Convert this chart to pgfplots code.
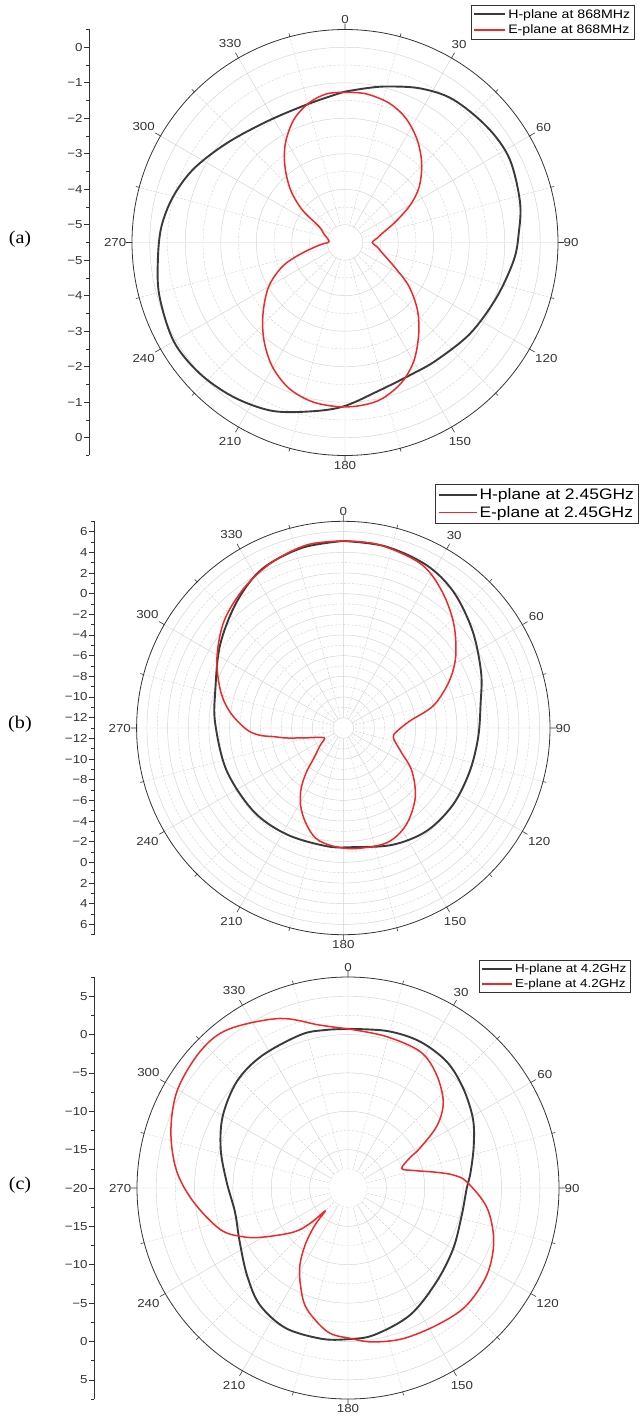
\documentclass[border=0pt]{standalone}
\usepackage{fontspec}
\setmainfont{Liberation Sans}[FakeStretch=1.15]
\newfontfamily\ser{Liberation Serif}[FakeStretch=1.12]
\usepackage{pgfplots}
\usepackage{pgfplotstable}
\pgfplotsset{compat=1.18}
\usepgfplotslibrary{polar}
\definecolor{hcol}{HTML}{3A3A3A}
\definecolor{ecol}{HTML}{F02828}
\definecolor{gridc}{HTML}{D2D2D2}
\definecolor{axc}{HTML}{333333}

\pgfplotstableread{
a r
0 -1.25
8 -1.11
15 -0.95
26 -0.67
37 -0.45
51 -0.34
63 -0.30
77 -0.44
87 -0.60
96 -0.72
110 -0.96
126 -1.14
142 -1.30
152 -1.34
167 -1.22
181 -0.87
193 -0.61
204 -0.32
216 -0.13
228 0.01
240 0.07
254 -0.06
265 -0.21
275 -0.31
285 -0.49
296 -0.76
310 -1.15
327 -1.44
344 -1.47
356 -1.33
360 -1.25
}\Ha
\pgfplotstableread{
a r
0 -1.27
8 -1.27
17.5 -1.38
26 -1.60
35 -1.96
44 -2.39
53 -2.88
60 -3.37
67.5 -3.95
76 -4.41
82 -4.58
90 -4.73
98 -4.58
106 -4.40
117 -3.90
124.5 -3.31
133 -2.71
141 -2.20
149.5 -1.66
157.6 -1.26
166.5 -0.98
174 -0.89
182 -0.87
191.6 -0.92
201 -1.10
210.4 -1.45
219.8 -1.93
229.2 -2.45
240 -3.02
249 -3.61
255 -4.16
262 -4.67
266 -4.86
273.6 -5.05
292 -4.86
301.6 -4.64
307.4 -3.98
314 -3.37
321.7 -2.77
329 -2.24
337.4 -1.75
345.5 -1.44
353 -1.28
360 -1.27
}\Ea
\pgfplotstableread{
a r
0 5.10
13 5.04
27 4.70
39 3.95
53 2.65
68 1.38
80 0.49
94 0.08
109 -0.07
125 -0.05
141 -0.18
157 -0.73
175 -1.43
188 -1.45
208 -1.34
227 -1.15
250 -0.98
272 -0.60
286 -0.11
304 1.38
320 3.00
333 4.28
347 4.88
360 5.10
}\Hb
\pgfplotstableread{
a r
0 5.10
11 5.07
25 4.58
35 3.43
46 1.80
57 -0.02
66 -1.76
76 -4.00
84 -6.53
94 -7.84
101 -8.07
113 -6.87
122 -5.18
134 -3.32
147 -1.83
159 -1.13
174 -1.27
185 -1.53
194 -2.00
202 -3.19
209 -4.47
215 -5.89
220 -7.47
224 -8.85
233 -10.19
243 -10.91
255 -9.33
260 -7.44
263 -6.18
265 -4.92
269 -3.66
278 -1.93
287 -0.57
299 0.98
312 2.51
325 3.63
337 4.47
349 5.07
360 5.10
}\Eb
\pgfplotstableread{
a r
0 0.74
14 1.09
26 1.27
38 0.90
49 -0.13
61 -1.38
72 -2.78
84 -4.00
90 -4.52
103 -4.76
120 -4.17
137 -3.17
154 -1.57
170 -0.54
180 -0.30
190 -0.05
204 -0.02
217 -0.91
229 -2.58
244 -4.27
258 -4.94
273 -4.15
287 -2.65
300 -1.16
314 0.08
327 0.57
343 0.91
352 0.80
360 0.74
}\Hc
\pgfplotstableread{
a r
0 0.74
14 0.37
28 0.11
38 -1.26
48 -3.29
55 -5.83
61 -9.28
64 -11.04
70 -12.54
75 -11.17
80 -8.24
83 -6.16
87 -4.50
98 -1.72
110 0.21
122 1.35
135 1.74
147 1.29
160 0.90
171 0.31
179 -0.39
188 -1.06
199 -3.40
206 -5.88
212 -8.17
217 -10.70
221 -13.07
223 -14.60
225 -15.76
227 -13.23
231 -10.87
240 -7.20
245 -4.95
252 -2.50
265 0.25
276 2.50
288 4.27
300 5.65
313 6.24
323 5.90
338 3.83
350 1.57
360 0.74
}\Ec

\pgfplotsset{
  mypolar/.style={
    scale only axis,
    anchor=center,
    xmin=0, xmax=360, ymin=0,
    xtick={0,30,...,330},
    xticklabels={90,60,30,0,330,300,270,240,210,180,150,120},
    minor xtick={15,45,...,345},
    grid=both,
    major grid style={gridc, line width=0.45pt},
    minor grid style={gridc, line width=0.4pt, dash pattern=on 2.5pt off 1.5pt},
    yticklabels={},
    ytick style={draw=none},
    y axis line style={draw=none},
    x axis line style={line width=0.8pt, draw=axc},
    xtick style={line width=0.6pt, draw=axc},
    major tick length=6pt,
    minor tick length=3.5pt,
    tick align=inside,
    xticklabel style={font=\fontsize{11.6}{13}\selectfont, text=axc, inner sep=5.5pt},
    legend cell align=left,
    legend style={draw=axc, line width=0.6pt, fill=white, inner xsep=2pt, inner ysep=2pt, anchor=north east},
  },
  hline/.style={hcol, line width=1.9pt, smooth, tension=0.55},
  eline/.style={ecol, line width=1.5pt, smooth, tension=0.55},
  radial/.style={
    scale only axis, width=1pt, anchor=west,
    xmin=0, xmax=1,
    axis x line=none,
    axis y line=left,
    y axis line style={line width=0.8pt, draw=axc, -},
    ytick style={line width=0.6pt, draw=axc},
    tick align=outside,
    major tick length=5pt, minor tick length=3pt,
    yticklabel style={font=\fontsize{11.6}{13}\selectfont, text=axc, inner sep=1.5pt},
  },
}

\begin{document}
\begin{tikzpicture}
\useasboundingbox (0,0) rectangle (639pt,-1420pt);

% ---------------- (a) ----------------
\begin{axis}[radial, at={(89.3pt,-242.5pt)}, height=426pt, ymin=-6, ymax=6,
  ytick={-5.5,-4.5,...,5.5},
  yticklabels={0,−1,−2,−3,−4,−5,−5,−4,−3,−2,−1,0},
  minor ytick={-6,-5,...,6}]
\end{axis}
\begin{polaraxis}[mypolar, at={(345pt,-242.5pt)}, width=426pt, ymax=6,
  ytick={0.5,1.5,...,5.5}, minor ytick={1,2,...,5},
  legend style={at={(1.1795,1.058)}, font=\fontsize{12.3}{13.5}\selectfont, row sep=1.5pt},
  legend image code/.code={\draw[#1] (0pt,0pt) -- (31pt,0pt);}]
\fill[white] (axis cs:0,0) circle[radius=17.2pt];
\addplot[hline] table[x expr={mod(450-\thisrow{a},360)}, y expr={\thisrow{r}+5.5}] {\Ha};
\addplot[eline] table[x expr={mod(450-\thisrow{a},360)}, y expr={\thisrow{r}+5.5}] {\Ea};
\legend{H-plane at 868MHz, E-plane at 868MHz}
\end{polaraxis}
\node[font=\ser\fontsize{18}{20}\selectfont] at (20pt,-239pt) {(a)};

% ---------------- (b) ----------------
\begin{axis}[radial, at={(94.3pt,-728pt)}, height=413.4pt, ymin=-20, ymax=20,
  ytick={-19,-17,...,19},
  yticklabels={6,4,2,0,−2,−4,−6,−8,−10,−12,−12,−10,−8,−6,−4,−2,0,2,4,6},
  minor ytick={-20,-18,...,20}]
\end{axis}
\begin{polaraxis}[mypolar, at={(343.3pt,-728pt)}, width=413.4pt, ymax=20,
  ytick={1,3,...,19}, minor ytick={2,4,...,18},
  legend style={at={(1.2136,1.090)}, font=\fontsize{15.2}{16.5}\selectfont, row sep=1.5pt},
  legend image code/.code={\draw[#1] (0pt,0pt) -- (38pt,0pt);}]
\fill[white] (axis cs:0,0) circle[radius=9.9pt];
\addplot[hline] table[x expr={mod(450-\thisrow{a},360)}, y expr={\thisrow{r}+13}] {\Hb};
\addplot[eline] table[x expr={mod(450-\thisrow{a},360)}, y expr={\thisrow{r}+13}] {\Eb};
\legend{H-plane at 2.45GHz, E-plane at 2.45GHz}
\end{polaraxis}
\node[font=\ser\fontsize{18}{20}\selectfont] at (20pt,-724pt) {(b)};

% ---------------- (c) ----------------
\begin{axis}[radial, at={(94.3pt,-1188pt)}, height=422pt, ymin=-27.5, ymax=27.5,
  ytick={-25,-20,...,25},
  yticklabels={5,0,−5,−10,−15,−20,−15,−10,−5,0,5},
  minor ytick={-27.5,-22.5,...,27.5}]
\end{axis}
\begin{polaraxis}[mypolar, at={(348pt,-1188pt)}, width=422pt, ymax=27.5,
  ytick={5,10,...,25}, minor ytick={2.5,7.5,...,22.5},
  legend style={at={(1.170,1.0403)}, font=\fontsize{11.7}{13}\selectfont, row sep=0.5pt},
  legend image code/.code={\draw[#1] (0pt,0pt) -- (30pt,0pt);}]
\fill[white] (axis cs:0,0) circle[radius=18.8pt];
\addplot[hline] table[x expr={mod(450-\thisrow{a},360)}, y expr={\thisrow{r}+20}] {\Hc};
\addplot[eline] table[x expr={mod(450-\thisrow{a},360)}, y expr={\thisrow{r}+20}] {\Ec};
\legend{H-plane at 4.2GHz, E-plane at 4.2GHz}
\end{polaraxis}
\node[font=\ser\fontsize{18}{20}\selectfont] at (20pt,-1185pt) {(c)};
\end{tikzpicture}
\end{document}
